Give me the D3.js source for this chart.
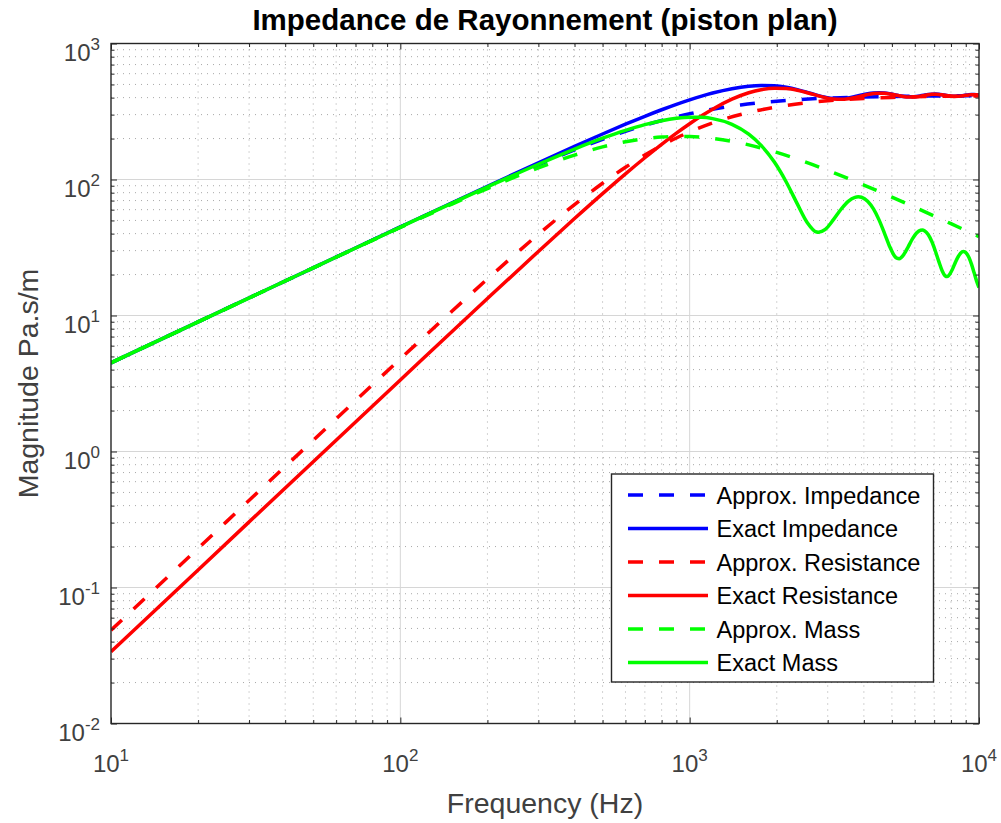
<!DOCTYPE html>
<html>
<head>
<meta charset="utf-8">
<script src="https://cdn.jsdelivr.net/npm/d3@7"></script>
<style>
  html, body { margin: 0; padding: 0; background: #fff; }
  svg { display: block; font-family: "Liberation Sans", Arial, Helvetica, sans-serif; }
</style>
</head>
<body>
<svg id="chart" width="1001" height="823"></svg>
<script>
// ---- data: radiation impedance of a plane piston (Pa.s/m) ----
const freqApprox = [10, 20, 50, 100, 150, 200, 300, 400, 500, 600, 700, 800, 900, 1000,
  1200, 1500, 2000, 2500, 3000, 4000, 5000, 6000, 7000, 8000, 9000, 10000];
const approxImpedance = [4.487, 8.974, 22.41, 44.62, 66.45, 87.73, 128.1, 164.8, 197.4, 225.9,
  250.5, 271.5, 289.5, 304.7, 328.7, 353.3, 376.7, 389.2, 396.6, 404.3, 408.1, 410.2, 411.4,
  412.3, 412.8, 413.2];
const approxResistance = [0.0485, 0.194, 1.210, 4.797, 10.64, 18.55, 39.52, 65.41, 93.88, 122.95,
  151.2, 177.7, 201.9, 223.7, 260.4, 300.7, 341.9, 365.1, 379.0, 394.0, 401.3, 405.4, 407.9,
  409.5, 410.7, 411.5];
const approxMass = [4.487, 8.971, 22.37, 44.36, 65.59, 85.75, 121.8, 151.2, 173.6, 189.5,
  199.7, 205.3, 207.4, 206.9, 200.7, 185.4, 158.1, 135.0, 116.8, 91.07, 74.21, 62.48, 53.88,
  47.34, 42.20, 38.05];

const freqExact = [10, 20, 50, 100, 200, 300, 400, 500, 600, 700,
  800, 900, 1000, 1100, 1200, 1400, 1600, 1766, 1962, 2159,
  2355, 2551, 2747, 2787, 2943, 3140, 3336, 3532, 3728, 3827,
  3925, 4121, 4317, 4513, 4710, 4906, 5102, 5200, 5298, 5495,
  5691, 5887, 6083, 6279, 6377, 6476, 6672, 6868, 7064, 7261,
  7457, 7653, 7751, 7849, 8045, 8242, 8438, 8634, 8830, 8928,
  9027, 9223, 9419, 9615, 9812, 10000];
const exactImpedance = [4.49, 8.98, 22.42, 44.82, 89.21, 132.8, 175.2, 216.0, 255.0, 291.6,
  325.7, 357.1, 385.4, 410.4, 432.2, 465.4, 484.9, 491.1, 488.2, 476.2,
  458.1, 437.3, 417.6, 414.0, 402.3, 393.9, 393.0, 398.4, 407.7, 412.9,
  418.0, 426.9, 432.6, 434.4, 432.3, 427.2, 420.4, 416.8, 413.5, 408.1,
  405.2, 405.3, 408.0, 412.5, 415.0, 417.4, 421.6, 424.2, 424.7, 423.2,
  420.2, 416.3, 414.5, 412.7, 410.0, 408.9, 409.5, 411.6, 414.5, 415.9,
  417.4, 419.8, 421.0, 420.9, 419.5, 417.4];
const exactResistance = [0.0337, 0.1347, 0.842, 3.359, 13.33, 29.58, 51.60, 78.69, 110.0, 144.5,
  181.3, 219.2, 257.1, 294.0, 328.9, 389.6, 434.4, 457.6, 469.4, 466.5,
  453.3, 434.6, 415.6, 412.0, 400.0, 390.7, 388.3, 392.4, 400.9, 406.1,
  411.4, 421.2, 428.3, 431.5, 430.5, 426.0, 419.5, 416.0, 412.7, 407.1,
  403.9, 403.7, 406.0, 410.3, 412.8, 415.3, 419.8, 422.8, 423.7, 422.5,
  419.6, 415.9, 414.0, 412.2, 409.5, 408.2, 408.7, 410.6, 413.4, 414.9,
  416.4, 418.9, 420.3, 420.4, 419.2, 417.1];
const exactMass = [4.49, 8.98, 22.4, 44.69, 88.21, 129.47, 167.44, 201.2, 230.0, 253.3,
  270.6, 281.9, 287.1, 286.5, 280.4, 254.5, 215.5, 178.2, 134.3, 95.5,
  66.2, 48.1, 41.07, 40.95, 42.97, 50.64, 60.44, 69.03, 73.97, 74.63,
  74.02, 69.25, 60.77, 50.47, 40.38, 32.33, 27.47, 26.40, 26.19, 28.06,
  31.97, 36.55, 40.38, 42.38, 42.51, 42.02, 39.35, 34.96, 29.82, 24.98,
  21.35, 19.52, 19.34, 19.61, 21.31, 23.93, 26.67, 28.72, 29.53, 29.37,
  28.85, 26.83, 23.88, 20.69, 17.89, 16.07];

const xTickExponents = [1, 2, 3, 4];
const yTickExponents = [-2, -1, 0, 1, 2, 3];
const legendLabels = ["Approx. Impedance", "Exact Impedance", "Approx. Resistance",
  "Exact Resistance", "Approx. Mass", "Exact Mass"];

// ---- series table (drawing order) ----
const series = [
  { name: legendLabels[0], f: freqApprox, v: approxImpedance, color: "#0000ff", dashed: true },
  { name: legendLabels[1], f: freqExact,  v: exactImpedance,  color: "#0000ff", dashed: false },
  { name: legendLabels[2], f: freqApprox, v: approxResistance, color: "#ff0000", dashed: true },
  { name: legendLabels[3], f: freqExact,  v: exactResistance, color: "#ff0000", dashed: false },
  { name: legendLabels[4], f: freqApprox, v: approxMass,      color: "#00ff00", dashed: true },
  { name: legendLabels[5], f: freqExact,  v: exactMass,       color: "#00ff00", dashed: false }
];

// ---- layout ----
const L = 111, R = 979, T = 43.5, B = 723.5;
const x = d3.scaleLog().domain([10, 1e4]).range([L, R]);
const y = d3.scaleLog().domain([1e-2, 1e3]).range([B, T]);
const DASH = "15,16";
const LW = 3.5;

const svg = d3.select("#chart");
svg.append("rect").attr("width", 1001).attr("height", 823).attr("fill", "#fff");

// plot background
svg.append("rect").attr("x", L).attr("y", T).attr("width", R - L).attr("height", B - T).attr("fill", "#fff");

// minor and major tick values
const xMajor = xTickExponents.map(e => Math.pow(10, e));
const yMajor = yTickExponents.map(e => Math.pow(10, e));
const xMinor = [], yMinor = [];
for (let e = 1; e < 4; e++) for (let k = 2; k <= 9; k++) xMinor.push(k * Math.pow(10, e));
for (let e = -2; e < 3; e++) for (let k = 2; k <= 9; k++) yMinor.push(k * Math.pow(10, e));

// minor grid (dotted)
const grid = svg.append("g");
grid.selectAll(".gxm").data(xMinor).join("line")
  .attr("x1", d => x(d)).attr("x2", d => x(d)).attr("y1", T).attr("y2", B)
  .attr("stroke", "#a8a8a8").attr("stroke-width", 1).attr("stroke-dasharray", "1,5");
grid.selectAll(".gym").data(yMinor).join("line")
  .attr("x1", L).attr("x2", R).attr("y1", d => y(d)).attr("y2", d => y(d))
  .attr("stroke", "#a8a8a8").attr("stroke-width", 1).attr("stroke-dasharray", "1,5");
// major grid (solid, light)
grid.selectAll(".gxM").data(xMajor.slice(1, -1)).join("line")
  .attr("x1", d => x(d)).attr("x2", d => x(d)).attr("y1", T).attr("y2", B)
  .attr("stroke", "#d6d6d6").attr("stroke-width", 1);
grid.selectAll(".gyM").data(yMajor.slice(1, -1)).join("line")
  .attr("x1", L).attr("x2", R).attr("y1", d => y(d)).attr("y2", d => y(d))
  .attr("stroke", "#d6d6d6").attr("stroke-width", 1);

// curves
svg.append("clipPath").attr("id", "plotClip").append("rect")
  .attr("x", L).attr("y", T).attr("width", R - L).attr("height", B - T);
const line = d3.line().x(d => x(d[0])).y(d => y(d[1])).curve(d3.curveMonotoneX);
const curves = svg.append("g").attr("clip-path", "url(#plotClip)");
series.forEach(s => {
  curves.append("path")
    .datum(s.f.map((f, i) => [f, s.v[i]]))
    .attr("d", line)
    .attr("fill", "none")
    .attr("stroke", s.color)
    .attr("stroke-width", LW)
    .attr("stroke-dasharray", s.dashed ? DASH : null);
});

// axes: ticks inside on all four sides
const axisColor = "#262626";
function addAxis(axisFn, scale, values, size, transform) {
  const g = svg.append("g").attr("transform", transform)
    .call(axisFn(scale).tickValues(values).tickSizeInner(-size).tickSizeOuter(0).tickFormat(""));
  g.select(".domain").remove();
  g.selectAll("line").attr("stroke", axisColor).attr("stroke-width", 1);
}
addAxis(d3.axisBottom, x, xMajor, 6, `translate(0,${B})`);
addAxis(d3.axisBottom, x, xMinor, 3.5, `translate(0,${B})`);
addAxis(d3.axisTop, x, xMajor, 6, `translate(0,${T})`);
addAxis(d3.axisTop, x, xMinor, 3.5, `translate(0,${T})`);
addAxis(d3.axisLeft, y, yMajor, 6, `translate(${L},0)`);
addAxis(d3.axisLeft, y, yMinor, 3.5, `translate(${L},0)`);
addAxis(d3.axisRight, y, yMajor, 6, `translate(${R},0)`);
addAxis(d3.axisRight, y, yMinor, 3.5, `translate(${R},0)`);

svg.append("rect").attr("x", L).attr("y", T).attr("width", R - L).attr("height", B - T)
  .attr("fill", "none").attr("stroke", axisColor).attr("stroke-width", 1.4);

// tick labels as powers of ten
function powerLabel(g, exp) {
  g.append("tspan").attr("font-size", 24).text("10");
  g.append("tspan").attr("font-size", 17).attr("dy", -11).text(String(exp));
}
xTickExponents.forEach(e => {
  const t = svg.append("text").attr("x", x(Math.pow(10, e))).attr("y", B + 48)
    .attr("text-anchor", "middle").attr("fill", "#404040");
  powerLabel(t, e);
});
yTickExponents.forEach(e => {
  const t = svg.append("text").attr("x", L - 11).attr("y", y(Math.pow(10, e)) + 17)
    .attr("text-anchor", "end").attr("fill", "#404040");
  powerLabel(t, e);
});

// titles
svg.append("text").attr("x", (L + R) / 2).attr("y", 29.5).attr("text-anchor", "middle")
  .attr("font-size", 29.5).attr("font-weight", "bold").attr("fill", "#000")
  .text("Impedance de Rayonnement (piston plan)");
svg.append("text").attr("x", (L + R) / 2).attr("y", 813).attr("text-anchor", "middle")
  .attr("font-size", 28.5).attr("fill", "#404040").text("Frequency (Hz)");
svg.append("text").attr("transform", `translate(38,${(T + B) / 2}) rotate(-90)`)
  .attr("text-anchor", "middle").attr("font-size", 28.5).attr("fill", "#404040")
  .text("Magnitude Pa.s/m");

// legend
const lg = svg.append("g");
lg.append("rect").attr("x", 611.5).attr("y", 474).attr("width", 322).attr("height", 208)
  .attr("fill", "#fff").attr("stroke", axisColor).attr("stroke-width", 1.4);
const rowY = i => 495 + i * 33.5;
series.forEach((s, i) => {
  lg.append("line").attr("x1", 628).attr("x2", 708).attr("y1", rowY(i)).attr("y2", rowY(i))
    .attr("stroke", s.color).attr("stroke-width", LW)
    .attr("stroke-dasharray", s.dashed ? DASH : null);
  lg.append("text").attr("x", 716.5).attr("y", rowY(i) + 8.5)
    .attr("font-size", 23.5).attr("fill", "#000").text(s.name);
});
</script>
</body>
</html>
